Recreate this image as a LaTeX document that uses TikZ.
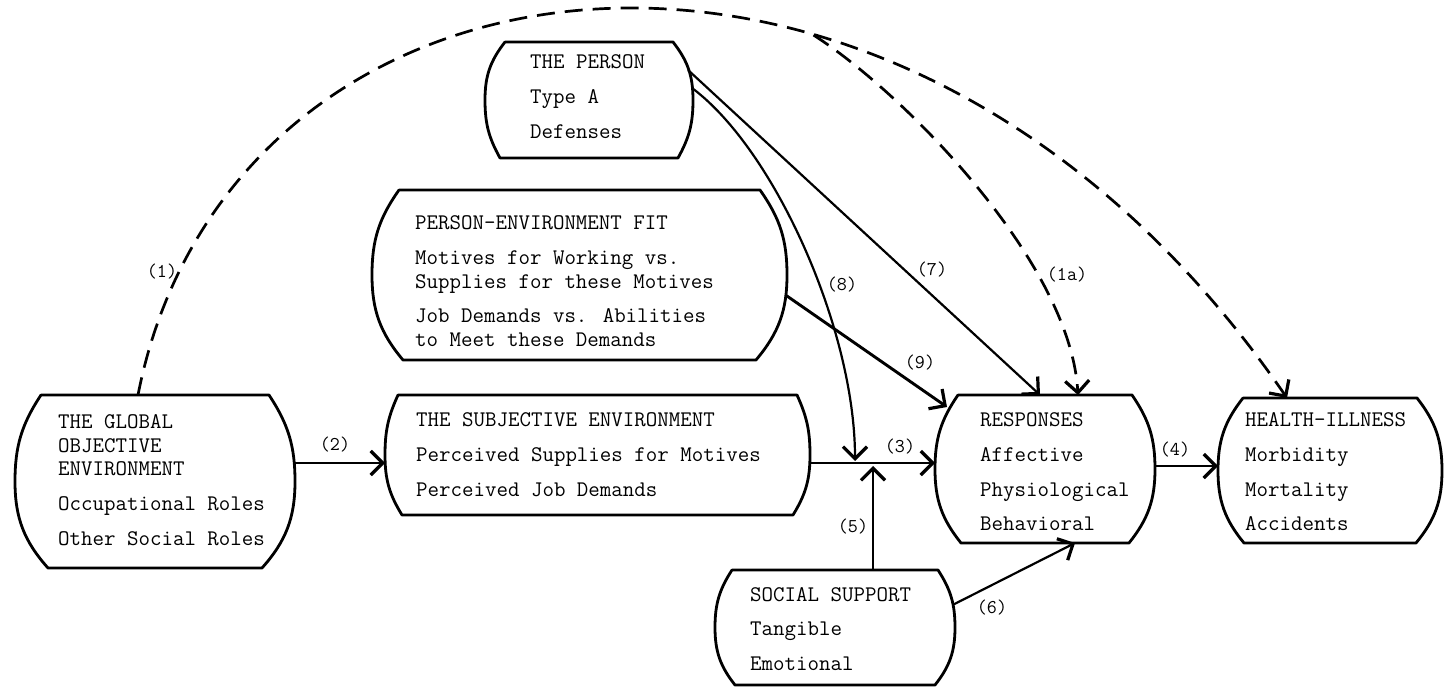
\documentclass[tikz,border=0pt]{standalone}
\usepackage{fontspec}
\usetikzlibrary{arrows.meta}

% barrel-shaped box outline: flat top and bottom, bulging sides
% #1 node name, #2 top corner inset, #3 bottom corner inset, #4 half height
\newcommand\barrel[4]{%
  \pgfmathsetmacro\bta{2*atan(#2/#4)}%
  \pgfmathsetmacro\btb{2*atan(#3/#4)}%
  \pgfmathsetmacro\oA{\bta-90}%
  \pgfmathsetmacro\iB{90-\btb}%
  \pgfmathsetmacro\oC{90+\btb}%
  \pgfmathsetmacro\iD{-90-\bta}%
  \draw[boxline] ([xshift=#2]#1.north west) -- ([xshift=-#2]#1.north east)
    to[out=\oA,in=90] (#1.east)
    to[out=-90,in=\iB] ([xshift=-#3]#1.south east)
    -- ([xshift=#3]#1.south west)
    to[out=\oC,in=-90] (#1.west)
    to[out=90,in=\iD] ([xshift=#2]#1.north west);}

\newcommand\lnstrut{\rule{0pt}{15pt}}

\tikzset{
  box/.style={rectangle, inner sep=0pt, outer sep=0pt},
  boxline/.style={line width=2.8pt, line join=round, line cap=round},
  txt/.style={font=\fontsize{22.3}{23.5}\selectfont\ttfamily\addfontfeature{FakeBold=0.4},
    align=left, inner sep=0pt, anchor=north west},
  num/.style={font=\fontsize{19.5}{20}\selectfont\ttfamily\addfontfeature{FakeBold=0.4},
    inner sep=0pt},
  arr/.style={line width=2.2pt, ->},
  heavy/.style={line width=2.9pt, ->},
  dashline/.style={line width=2.7pt, dash pattern=on 18pt off 10pt, ->},
}

\begin{document}
\begin{tikzpicture}[x=1pt, y=-1pt,
  >={Straight Barb[length=12pt,width=24pt,line width=3.2pt]}]
\useasboundingbox[fill=white] (0,0) rectangle (1446,690);

% box frames
\node[box, minimum width=280, minimum height=173] (glob) at (155,481.5) {};
\node[box, minimum width=425, minimum height=120] (subj) at (597.5,455) {};
\node[box, minimum width=208, minimum height=116] (pers) at (589,100) {};
\node[box, minimum width=415, minimum height=170] (pef)  at (579.5,275) {};
\node[box, minimum width=220, minimum height=148] (resp) at (1045,469) {};
\node[box, minimum width=224, minimum height=145] (hlth) at (1330,470.5) {};
\node[box, minimum width=240, minimum height=115] (soc)  at (835,627.5) {};

\barrel{glob}{26}{33}{86.5}
\barrel{subj}{13}{17}{60}
\barrel{pers}{20}{15}{58}
\barrel{pef}{27}{31}{85}
\barrel{resp}{23}{26}{74}
\barrel{hlth}{25}{26}{72.5}
\barrel{soc}{17}{20}{57.5}

% box contents
\node[txt] (globtxt) at (58,413.5) {\lnstrut THE GLOBAL\\OBJECTIVE\\ENVIRONMENT\\[11.5pt]Occupational Roles\\[11.5pt]Other Social Roles};
\node[txt] (subjtxt) at (416,411.5) {\lnstrut THE SUBJECTIVE ENVIRONMENT\\[11.5pt]Perceived Supplies for Motives\\[11.5pt]Perceived Job Demands};
\node[txt] (perstxt) at (530,53.5) {\lnstrut THE PERSON\\[11.5pt]Type A\\[11.5pt]Defenses};
\node[txt] (peftxt) at (415,214.5) {\lnstrut PERSON-ENVIRONMENT FIT\\[11.5pt]Motives for Working vs.\\Supplies for these Motives\\[11pt]Job Demands vs. Abilities\\to Meet these Demands};
\node[txt] (resptxt) at (980,411.5) {\lnstrut RESPONSES\\[11.5pt]Affective\\[11.5pt]Physiological\\[10pt]Behavioral};
\node[txt] (hlthtxt) at (1245,411.5) {\lnstrut HEALTH-ILLNESS\\[11.5pt]Morbidity\\[11.5pt]Mortality\\[10pt]Accidents};
\node[txt] (soctxt) at (750,586.5) {\lnstrut SOCIAL SUPPORT\\[10pt]Tangible\\[11.5pt]Emotional};

% dashed paths (1) and (1a)
\draw[dashline] ([xshift=-17]glob.north) .. controls (230,-75) and (900,-165) .. ([xshift=-43]hlth.north)
  coordinate[pos=0.65] (split);
\draw[dashline] (split) .. controls (900,90) and (1070,260) .. ([xshift=33]resp.north);

% solid paths
\coordinate (m5) at (873,466);
\coordinate (m8) at (855,461);
\draw[arr] ([yshift=18.5]glob.east) -- ([yshift=-8]subj.west);
\draw[arr] ([yshift=-8]subj.east) -- ([yshift=6]resp.west);
\draw[arr] ([yshift=3]resp.east) -- ([yshift=4.5]hlth.west);
\draw[arr] ([xshift=38]soc.north) -- (m5);
\draw[arr] ([xshift=-1,yshift=12]pers.east) .. controls (775,150) and (855,330) .. (m8);
\draw[arr] ([xshift=-5,yshift=30]pers.east) -- ([xshift=-5]resp.north);
\draw[heavy] ([xshift=-1.5,yshift=-20]pef.east) -- ([xshift=12,yshift=-12]resp.north west);
\draw[arr] ([xshift=-2.5,yshift=22.5]soc.east) -- ([xshift=30]resp.south);

% path numbers
\node[num] (n1)  at (162,272) {(1)};
\node[num] (n1a) at (1067,275) {(1a)};
\node[num] (n2)  at (335,445) {(2)};
\node[num] (n3)  at (900,447) {(3)};
\node[num] (n4)  at (1175,450) {(4)};
\node[num] (n5)  at (853,527) {(5)};
\node[num] (n6)  at (992,608) {(6)};
\node[num] (n7)  at (932,270) {(7)};
\node[num] (n8)  at (842,285) {(8)};
\node[num] (n9)  at (920,363) {(9)};
\end{tikzpicture}
\end{document}
